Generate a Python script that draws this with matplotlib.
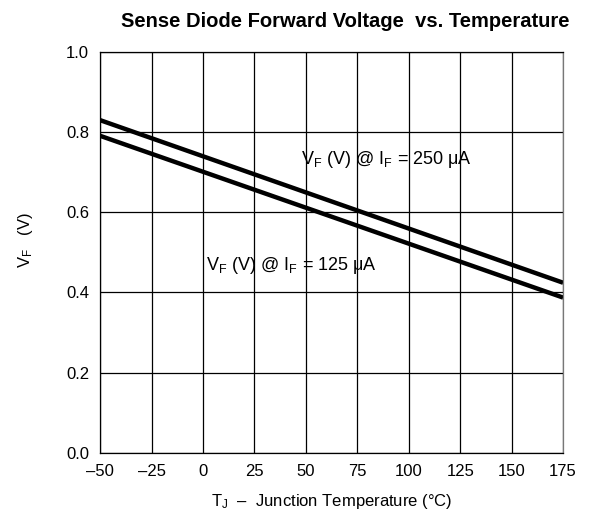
import numpy as np
import matplotlib
matplotlib.use('Agg')
import matplotlib.pyplot as plt

plt.rcParams['font.family'] = ['Liberation Sans', 'DejaVu Sans']
plt.rcParams['mathtext.fontset'] = 'custom'
plt.rcParams['mathtext.rm'] = 'Liberation Sans'
plt.rcParams['mathtext.it'] = 'Liberation Sans:italic'

# data
temps = [-50, 175]
vf_250 = [0.829, 0.424]
vf_125 = [0.790, 0.387]
x_ticks = [-50, -25, 0, 25, 50, 75, 100, 125, 150, 175]
y_ticks = [0.0, 0.2, 0.4, 0.6, 0.8, 1.0]

fig = plt.figure(figsize=(5.89, 5.31), dpi=100)
ax = fig.add_axes([0.170, 0.147, 0.786, 0.756])

ax.plot(temps, vf_250, color='black', lw=3.2, solid_capstyle='butt')
ax.plot(temps, vf_125, color='black', lw=3.2, solid_capstyle='butt')

ax.set_xlim(-50, 175); ax.set_ylim(0, 1.0)
ax.set_xticks(x_ticks)
ax.set_xticklabels([f'{t}'.replace('-', '\u2013') for t in x_ticks])
ax.set_yticks(y_ticks)
ax.set_yticklabels([f'{v:.1f}' for v in y_ticks])
ax.tick_params(length=0, labelsize=12, pad=8)
ax.grid(True, color='black', lw=0.9)
ax.set_axisbelow(True)
for s in ax.spines.values():
    s.set_linewidth(0.9)
ax.spines['right'].set_color('#777777')

lbl = r'V$_\mathrm{F}$ (V) @ I$_\mathrm{F}$ = %d $\mathrm{\mu}$A'
ax.text(47.5, 0.73, lbl % 250, fontsize=13, va='center', ha='left')
ax.text(1.5, 0.468, lbl % 125, fontsize=13, va='center', ha='left')

ax.set_title('Sense Diode Forward Voltage  vs. Temperature', fontsize=14.5, fontweight='bold', pad=18, x=0.53)
ax.set_xlabel('T$_\\mathrm{J}$  \u2013  Junction Temperature ($\\degree$C)', fontsize=12, labelpad=9)
ax.set_ylabel(r'V$_\mathrm{F}$   (V)', fontsize=12, labelpad=22)
ax.yaxis.label.set_y(0.53)

fig.savefig('out.png', dpi=100)
